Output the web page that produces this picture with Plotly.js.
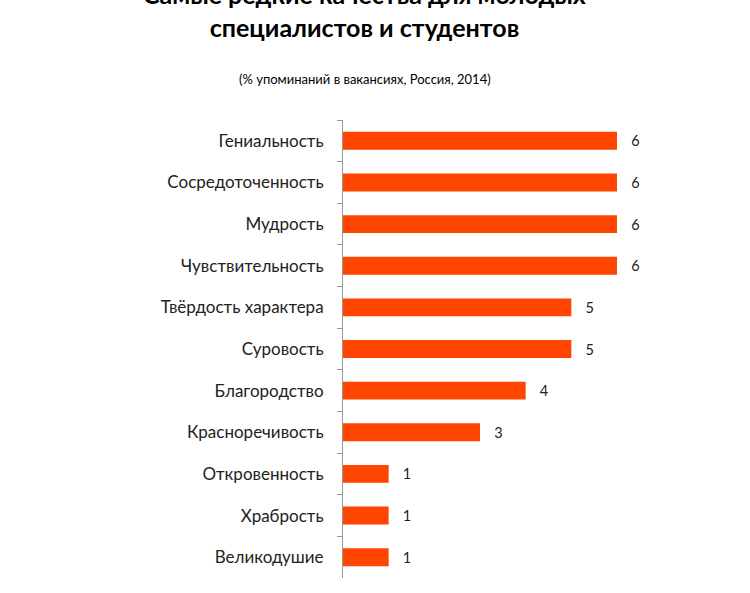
<!DOCTYPE html>
<html><head><meta charset="utf-8">
<script src="https://cdn.plot.ly/plotly-3.0.1.min.js"></script>
<style>body{margin:0}</style></head>
<body><div id="chart" style="width:750px;height:593px"></div>
<script>
var qualities = ['Гениальность','Сосредоточенность','Мудрость','Чувствительность','Твёрдость характера','Суровость','Благородство','Красноречивость','Откровенность','Храбрость','Великодушие'];
var mentions = [6,6,6,6,5,5,4,3,1,1,1];

var trace = {
  type: 'bar', orientation: 'h',
  y: qualities, x: mentions,
  marker: {color: '#FF4500'},
  text: mentions.map(function (v) { return '\u00a0\u00a0\u00a0' + v; }), textposition: 'outside',
  textfont: {family: 'Lato, sans-serif', size: 17, color: '#222'},
  cliponaxis: false, hoverinfo: 'none'
};

var layout = {
  margin: {l: 343, r: 133, t: 120, b: 15},
  paper_bgcolor: 'white', plot_bgcolor: 'white',
  bargap: 0.57, showlegend: false,
  font: {family: 'Lato, sans-serif', color: '#222'},
  xaxis: {range: [0, 6], visible: false, fixedrange: true},
  yaxis: {autorange: 'reversed', showline: true, linecolor: '#999', linewidth: 1,
    ticks: 'outside', tickson: 'boundaries', ticklen: 5, tickcolor: '#999',
    tickfont: {size: 17, color: '#222'}, ticklabelstandoff: 15},
  annotations: [
    {xref: 'paper', yref: 'paper', x: 0.08, y: 1.239, showarrow: false,
     text: '<b>Самые редкие качества для молодых<br>специалистов и студентов</b>',
     font: {size: 25, color: '#000'}, align: 'center', xanchor: 'center', yanchor: 'middle'},
    {xref: 'paper', yref: 'paper', x: 0.08, y: 1.09, showarrow: false,
     text: '(% упоминаний в вакансиях, Россия, 2014)',
     font: {size: 13, color: '#000'}, xanchor: 'center', yanchor: 'middle'}
  ]
};

Plotly.newPlot('chart', [trace], layout, {displayModeBar: false, staticPlot: true});
</script></body></html>
